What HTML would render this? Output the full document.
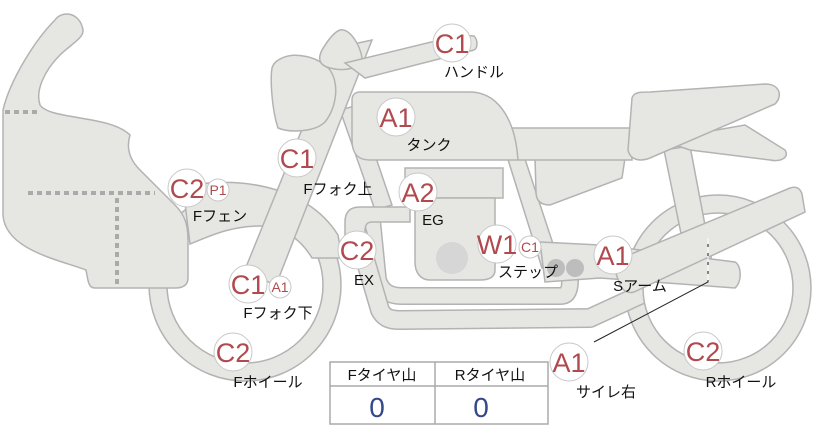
<!DOCTYPE html>
<html><head><meta charset="utf-8"><style>
html,body{margin:0;padding:0;background:#fff;}
svg{display:block;font-family:"Liberation Sans","Noto Sans CJK JP",sans-serif;}
.s{fill:#e6e6e3;stroke:#b3b3b3;stroke-width:1.5;}
.b{fill:#fff;stroke:#c8c8c8;stroke-width:1;}
.lbl{fill:#b04a4e;font-size:27px;text-anchor:middle;}
.sl{fill:#b04a4e;font-size:14px;text-anchor:middle;}
.t{fill:#111;font-size:15px;text-anchor:middle;}
</style></head><body>
<svg width="822" height="425" viewBox="0 0 822 425" xmlns="http://www.w3.org/2000/svg">
<!-- rear wheel -->
<circle cx="718" cy="288" r="93" class="s"/>
<circle cx="718" cy="288" r="75" fill="#fff" stroke="#b3b3b3" stroke-width="1.5"/>
<!-- front wheel -->
<circle cx="245" cy="285" r="96" class="s"/>
<circle cx="245" cy="285" r="78" fill="#fff" stroke="#b3b3b3" stroke-width="1.5"/>
<!-- fairing -->
<path class="s" d="M55,20 C62,10 80,12 83,30 C84,38 70,45 60,55 C45,70 35,90 40,105 C50,120 110,115 130,135 C126,148 130,160 140,170 L175,205 C185,215 188,225 188,240 L188,278 C188,285 183,288 175,288 L95,288 C88,288 88,280 86,270 C60,260 5,250 3,215 L3,110 C10,80 35,40 55,20 Z"/>
<g stroke="#aaa" stroke-width="4" stroke-dasharray="5,4">
<line x1="5" y1="112" x2="38" y2="112"/><line x1="28" y1="193" x2="155" y2="193"/><line x1="117" y1="198" x2="117" y2="284"/></g>
<!-- fender -->
<path class="s" d="M183,187 C230,176 305,182 338,235 L342,258 L312,258 C300,238 282,226 260,226 C230,226 210,236 190,244 Z"/>
<!-- rear shock -->
<path class="s" d="M664,150 L690,146 L712,262 L688,268 Z"/>
<!-- frame tubes -->
<path class="s" d="M340,110 L358,105 L392,205 L375,210 Z"/>
<path class="s" d="M505,150 L522,150 L560,265 L542,268 Z"/>
<!-- under seat panel -->
<path class="s" d="M535,158 L625,158 L622,178 L550,205 C540,205 536,200 536,192 Z"/>
<!-- seat -->
<path class="s" d="M510,128 L630,128 L632,160 L520,160 C512,160 510,150 510,145 Z"/>
<path class="s" d="M660,140 L745,125 L785,150 C790,158 780,162 770,160 L690,150 Z"/>
<path class="s" d="M632,98 C634,92 640,92 650,92 L765,84 C780,84 783,96 775,104 L650,158 C640,162 630,160 628,150 Z"/>
<!-- tank -->
<path class="s" d="M360,92 L470,92 C495,92 515,115 518,160 L370,160 C355,160 352,150 352,140 L352,100 C352,95 355,92 360,92 Z"/>
<!-- exhaust pipes -->
<path d="M372,220 L378,280 C382,292 390,296 402,296 L560,296 C568,296 570,290 570,280 L570,265" fill="none" stroke="#b3b3b3" stroke-width="18" stroke-linejoin="round"/>
<path d="M372,220 L378,280 C382,292 390,296 402,296 L560,296 C568,296 570,290 570,280 L570,265" fill="none" stroke="#e6e6e3" stroke-width="15" stroke-linejoin="round"/>
<path d="M355,225 L380,310 C384,318 390,320 400,320 L590,318 L640,295" fill="none" stroke="#b3b3b3" stroke-width="20" stroke-linejoin="round"/>
<path d="M355,225 L380,310 C384,318 390,320 400,320 L590,318 L640,295" fill="none" stroke="#e6e6e3" stroke-width="17" stroke-linejoin="round"/>
<path class="s" d="M345,222 C345,212 350,207 360,207 L410,207 L410,222 L372,222 C365,222 365,228 365,232 L365,245 L345,245 Z"/>
<!-- engine -->
<path class="s" d="M405,168 L503,168 L503,198 L405,198 Z"/>
<path class="s" d="M415,198 L495,198 L495,270 C495,278 488,280 480,280 L430,280 C420,280 415,272 415,262 Z"/>
<circle cx="452" cy="258" r="16" fill="#d6d6d6"/>
<!-- step / swingarm -->
<path class="s" d="M540,242 L600,245 L735,262 C742,266 742,282 735,288 L600,278 L545,282 Z"/>
<circle cx="556" cy="268" r="9" fill="#bdbdbd"/>
<circle cx="575" cy="268" r="9" fill="#bdbdbd"/>
<!-- muffler -->
<path class="s" d="M612,262 L790,188 C796,186 800,188 802,194 L805,212 L634,292 C628,294 622,290 620,285 Z"/>
<!-- fork -->
<path class="s" d="M335,48 L372,40 L276,285 L244,272 Z"/>
<!-- headlight -->
<path class="s" d="M282,58 C295,52 318,56 330,70 C340,85 336,108 325,122 C315,132 290,133 278,128 C272,110 270,80 272,68 C274,62 278,60 282,58 Z"/>
<path class="s" d="M340,30 C350,28 360,45 362,58 C362,68 345,72 330,68 C318,65 318,58 322,50 C328,40 334,32 340,30 Z"/>
<!-- handlebar -->
<path class="s" d="M345,63 L460,35 L474,36 C478,40 478,48 474,50 L365,78 Z"/>
<!-- connector line -->
<path d="M594,342 L708,282 L708,238" fill="none" stroke="#222" stroke-width="1"/>
<line x1="708" y1="238" x2="708" y2="282" stroke="#fff" stroke-width="1" stroke-dasharray="6,3"/>

<!-- badges -->
<g>
<circle class="b" cx="452" cy="43" r="19"/><text class="lbl" x="452" y="53">C1</text>
<circle class="b" cx="396" cy="117" r="19"/><text class="lbl" x="396" y="127">A1</text>
<circle class="b" cx="297" cy="158" r="19"/><text class="lbl" x="297" y="168">C1</text>
<circle class="b" cx="418" cy="192" r="19"/><text class="lbl" x="418" y="202">A2</text>
<circle class="b" cx="187" cy="188" r="19"/><text class="lbl" x="187" y="198">C2</text>
<circle class="b" cx="218" cy="190" r="11"/><text class="sl" x="218" y="195">P1</text>
<circle class="b" cx="357" cy="250" r="19"/><text class="lbl" x="357" y="260">C2</text>
<circle class="b" cx="497" cy="244" r="19"/><text class="lbl" x="497" y="254">W1</text>
<circle class="b" cx="530" cy="247" r="11"/><text class="sl" x="530" y="252">C1</text>
<circle class="b" cx="613" cy="255" r="19"/><text class="lbl" x="613" y="265">A1</text>
<circle class="b" cx="248" cy="284" r="19"/><text class="lbl" x="248" y="294">C1</text>
<circle class="b" cx="280" cy="287" r="11"/><text class="sl" x="280" y="292">A1</text>
<circle class="b" cx="233" cy="352" r="19"/><text class="lbl" x="233" y="362">C2</text>
<circle class="b" cx="569" cy="362" r="19"/><text class="lbl" x="569" y="372">A1</text>
<circle class="b" cx="703" cy="351" r="19"/><text class="lbl" x="703" y="361">C2</text>
</g>
<g>
<text class="t" x="474" y="77">ハンドル</text>
<text class="t" x="429" y="150">タンク</text>
<text class="t" x="338" y="194">Fフォク上</text>
<text class="t" x="433" y="225">EG</text>
<text class="t" x="220" y="221">Fフェン</text>
<text class="t" x="364" y="285">EX</text>
<text class="t" x="528" y="277">ステップ</text>
<text class="t" x="640" y="291">Sアーム</text>
<text class="t" x="278" y="318">Fフォク下</text>
<text class="t" x="268" y="387">Fホイール</text>
<text class="t" x="606" y="397">サイレ右</text>
<text class="t" x="741" y="387">Rホイール</text>
</g>
<!-- table -->
<rect x="330" y="362" width="218" height="62" fill="#fff" stroke="#aaa" stroke-width="1.5"/>
<line x1="330" y1="386" x2="548" y2="386" stroke="#aaa" stroke-width="1.5"/>
<line x1="435" y1="362" x2="435" y2="424" stroke="#aaa" stroke-width="1.5"/>
<text class="t" x="382" y="380">Fタイヤ山</text>
<text class="t" x="490" y="380">Rタイヤ山</text>
<text x="377" y="417" font-size="28" fill="#34478a" text-anchor="middle">0</text>
<text x="481" y="417" font-size="28" fill="#34478a" text-anchor="middle">0</text>
</svg>
</body></html>
